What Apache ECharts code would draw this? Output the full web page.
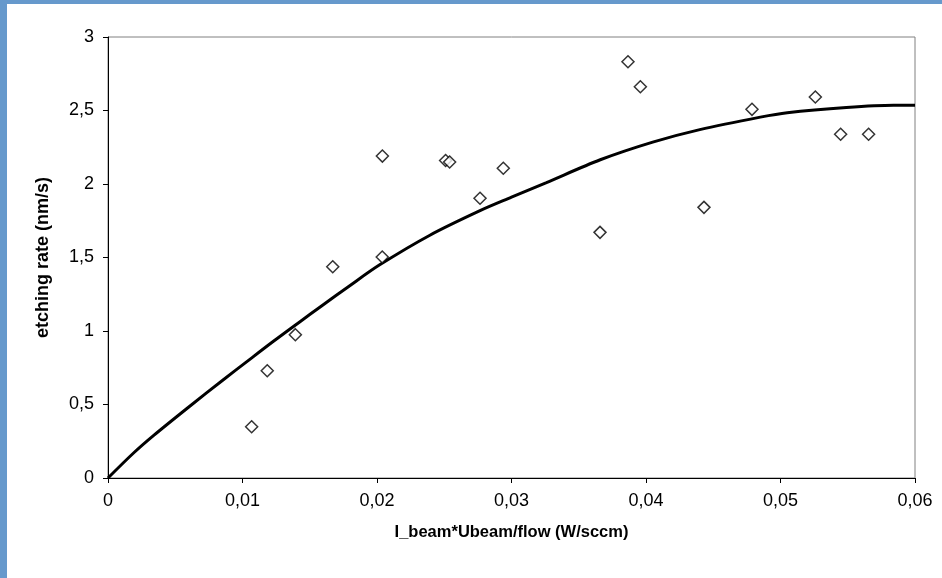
<!DOCTYPE html>
<html>
<head>
<meta charset="utf-8">
<script src="https://cdn.jsdelivr.net/npm/echarts@6/dist/echarts.min.js"></script>
<style>
html,body{margin:0;padding:0;background:#fff;}
#c{width:942px;height:578px;}
</style>
</head>
<body>
<div id="c"></div>
<script>
// measured points
var pointX = [0.01068, 0.01184, 0.01393, 0.01671, 0.02039, 0.0204, 0.0251, 0.0254, 0.02766, 0.02939, 0.03658, 0.03866, 0.03958, 0.04431, 0.04788, 0.05259, 0.05447, 0.05655];
var pointY = [0.349, 0.730, 0.975, 1.437, 1.503, 2.19, 2.16, 2.15, 1.903, 2.107, 1.671, 2.832, 2.662, 1.841, 2.508, 2.592, 2.338, 2.338];
// fitted curve
var fitX = [0, 0.0019, 0.0034, 0.0061, 0.0086, 0.0103, 0.0123, 0.0143, 0.0158, 0.018, 0.0202, 0.0239, 0.0277, 0.0300, 0.0326, 0.0366, 0.0405, 0.044, 0.0485, 0.0505, 0.0549, 0.0584, 0.06];
var fitY = [0, 0.17, 0.29, 0.49, 0.67, 0.79, 0.93, 1.065, 1.165, 1.31, 1.45, 1.65, 1.82, 1.91, 2.01, 2.165, 2.285, 2.37, 2.455, 2.485, 2.52, 2.535, 2.535];
var xTitle = 'I_beam*Ubeam/flow (W/sccm)';
var yTitle = 'etching rate (nm/s)';

var scatterData = pointX.map(function(x, i){ return [x, pointY[i]]; });
var fitData = fitX.map(function(x, i){ return [x, fitY[i]]; });

function fmt(d){ return function(v){ return String(+v.toFixed(d)).replace('.', ','); }; }

var chart = echarts.init(document.getElementById('c'), null, {renderer:'canvas'});
chart.setOption({
  backgroundColor: '#ffffff',
  animation: false,
  graphic: [
    {type:'rect', left:0, top:0, shape:{width:942, height:4}, style:{fill:'#6699cc'}, z:100},
    {type:'rect', left:0, top:0, shape:{width:7, height:578}, style:{fill:'#6699cc'}, z:100}
  ],
  grid: {left:108, top:37, right:27, bottom:100, show:true, borderColor:'#808080', borderWidth:1, backgroundColor:'transparent'},
  xAxis: {
    type:'value', min:0, max:0.06, interval:0.01,
    name: xTitle, nameLocation:'middle', nameGap:46,
    nameTextStyle:{fontFamily:'Liberation Sans, Arial', fontWeight:'bold', fontSize:16.5, color:'#000'},
    axisLine:{show:true, onZero:false, lineStyle:{color:'#000', width:1}},
    axisTick:{show:true, inside:false, length:5, lineStyle:{color:'#000'}},
    splitLine:{show:false},
    axisLabel:{formatter: fmt(2), fontFamily:'Liberation Sans, Arial', fontSize:18, color:'#000', margin:14}
  },
  yAxis: {
    type:'value', min:0, max:3, interval:0.5,
    name: yTitle, nameLocation:'middle', nameGap:56, nameRotate:90,
    nameTextStyle:{fontFamily:'Liberation Sans, Arial', fontWeight:'bold', fontSize:18, color:'#000'},
    axisLine:{show:true, onZero:false, lineStyle:{color:'#000', width:1}},
    axisTick:{show:true, inside:false, length:5, lineStyle:{color:'#000'}},
    splitLine:{show:false},
    axisLabel:{formatter: fmt(1), fontFamily:'Liberation Sans, Arial', fontSize:18, color:'#000', margin:14}
  },
  series: [
    {
      type:'line', data: fitData, smooth:0.3, showSymbol:false, symbol:'none',
      lineStyle:{color:'#000', width:3}, z:2
    },
    {
      type:'scatter', data: scatterData, symbol:'diamond', symbolSize:12,
      itemStyle:{color:'#ffffff', borderColor:'#000', borderWidth:1.5}, z:3
    }
  ]
});
</script>
</body>
</html>
